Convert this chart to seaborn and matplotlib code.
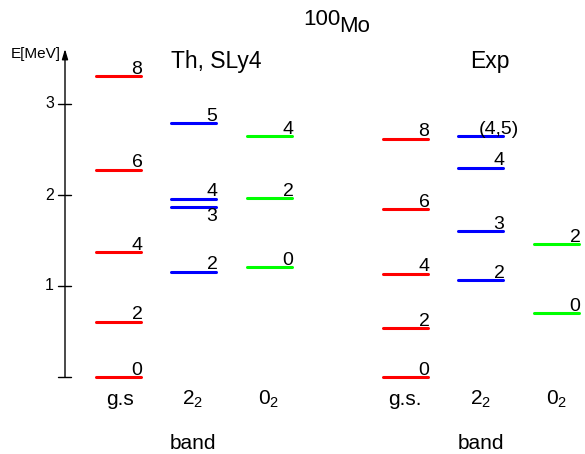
import matplotlib
matplotlib.use("Agg")
import matplotlib.pyplot as plt
import seaborn as sns
import pandas as pd

sns.set_theme(style="white")
plt.rcParams['font.family'] = ['Liberation Sans', 'DejaVu Sans']
plt.rcParams['mathtext.fontset'] = 'custom'
plt.rcParams['mathtext.rm'] = 'Liberation Sans'
plt.rcParams['mathtext.it'] = 'Liberation Sans'
plt.rcParams['text.color'] = 'black'

# ---- data (energies in MeV, spins as labels) ----
th_gs_E = [0.0, 0.608, 1.37, 2.28, 3.31]
th_gs_J = ['0', '2', '4', '6', '8']
th_gam_E = [1.157, 1.87, 1.96, 2.79]
th_gam_J = ['2', '3', '4', '5']
th_beta_E = [1.205, 1.967, 2.65]
th_beta_J = ['0', '2', '4']

exp_gs_E = [0.0, 0.535, 1.135, 1.846, 2.62]
exp_gs_J = ['0', '2', '4', '6', '8']
exp_gam_E = [1.063, 1.60, 2.30, 2.65]
exp_gam_J = ['2', '3', '4', '(4,5)']
exp_beta_E = [0.70, 1.46]
exp_beta_J = ['0', '2']

band_labels_th = ['g.s', r'$\mathregular{2_2}$', r'$\mathregular{0_2}$']
band_labels_exp = ['g.s.', r'$\mathregular{2_2}$', r'$\mathregular{0_2}$']
y_ticks = [0, 1, 2, 3]

# ---- layout (pixel-like x coordinates) ----
col_left = {'th_gs': 96, 'th_gam': 171, 'th_beta': 247,
            'exp_gs': 383, 'exp_gam': 458, 'exp_beta': 534}
width = 45
colors = {'gs': '#ff0000', 'gam': '#0000ff', 'beta': '#00ff00'}

bands = [
    ('th_gs', 'gs', th_gs_E, th_gs_J),
    ('th_gam', 'gam', th_gam_E, th_gam_J),
    ('th_beta', 'beta', th_beta_E, th_beta_J),
    ('exp_gs', 'gs', exp_gs_E, exp_gs_J),
    ('exp_gam', 'gam', exp_gam_E, exp_gam_J),
    ('exp_beta', 'beta', exp_beta_E, exp_beta_J),
]

rows = []
uid = 0
for col, kind, Es, Js in bands:
    for E, J in zip(Es, Js):
        for x in (col_left[col], col_left[col] + width):
            rows.append({'x': x, 'E': E, 'kind': kind, 'uid': uid})
        uid += 1
df = pd.DataFrame(rows)

W, H = 585, 454
fig = plt.figure(figsize=(W / 100, H / 100), dpi=100)
ax = fig.add_axes([0, 0, 1, 1])
y0_px, scale = 377, 91.0
ax.set_xlim(0, W)
ax.set_ylim((y0_px - H) / scale, y0_px / scale)


def py(p):
    return (y0_px - p) / scale


sns.lineplot(data=df, x='x', y='E', hue='kind', units='uid', estimator=None,
             palette=colors, linewidth=2.2, legend=False, ax=ax)

# spin labels
for col, kind, Es, Js in bands:
    xr = col_left[col] + width - 4
    for E, J in zip(Es, Js):
        if col == 'th_gam' and J == '3':
            ax.text(xr, E - 0.01, J, ha='center', va='top', fontsize=14)
        else:
            ax.text(xr, E + 0.025, J, ha='center', va='baseline', fontsize=14)

# y axis with arrow
ax.annotate('', xy=(65, py(49)), xytext=(65, 0),
            arrowprops=dict(arrowstyle='-|>,head_length=0.5,head_width=0.15',
                            color='black', lw=1.0, shrinkA=0, shrinkB=0))
for t in y_ticks:
    ax.plot([58, 71], [t, t], color='black', lw=1.0)
    if t > 0:
        ax.text(54, t, str(t), ha='right', va='center', fontsize=11.5)
ax.text(61, py(58), 'E[MeV]', ha='right', va='baseline', fontsize=11)

# headings
ax.text(303, py(25), '100', ha='left', va='baseline', fontsize=16)
ax.text(339.5, py(31.7), 'Mo', ha='left', va='baseline', fontsize=16)
ax.text(216.7, py(68.3), 'Th, SLy4', ha='center', va='baseline', fontsize=16.5)
ax.text(490, py(68.3), 'Exp', ha='center', va='baseline', fontsize=16.5)

# band labels
for cx, lab in zip([120, 193, 269], band_labels_th):
    ax.text(cx, py(405), lab, ha='center', va='baseline', fontsize=15)
for cx, lab in zip([405, 481, 557], band_labels_exp):
    ax.text(cx, py(405), lab, ha='center', va='baseline', fontsize=15)
ax.text(193, py(449), 'band', ha='center', va='baseline', fontsize=15)
ax.text(481, py(449), 'band', ha='center', va='baseline', fontsize=15)

ax.axis('off')
fig.savefig('out.png', dpi=100)
